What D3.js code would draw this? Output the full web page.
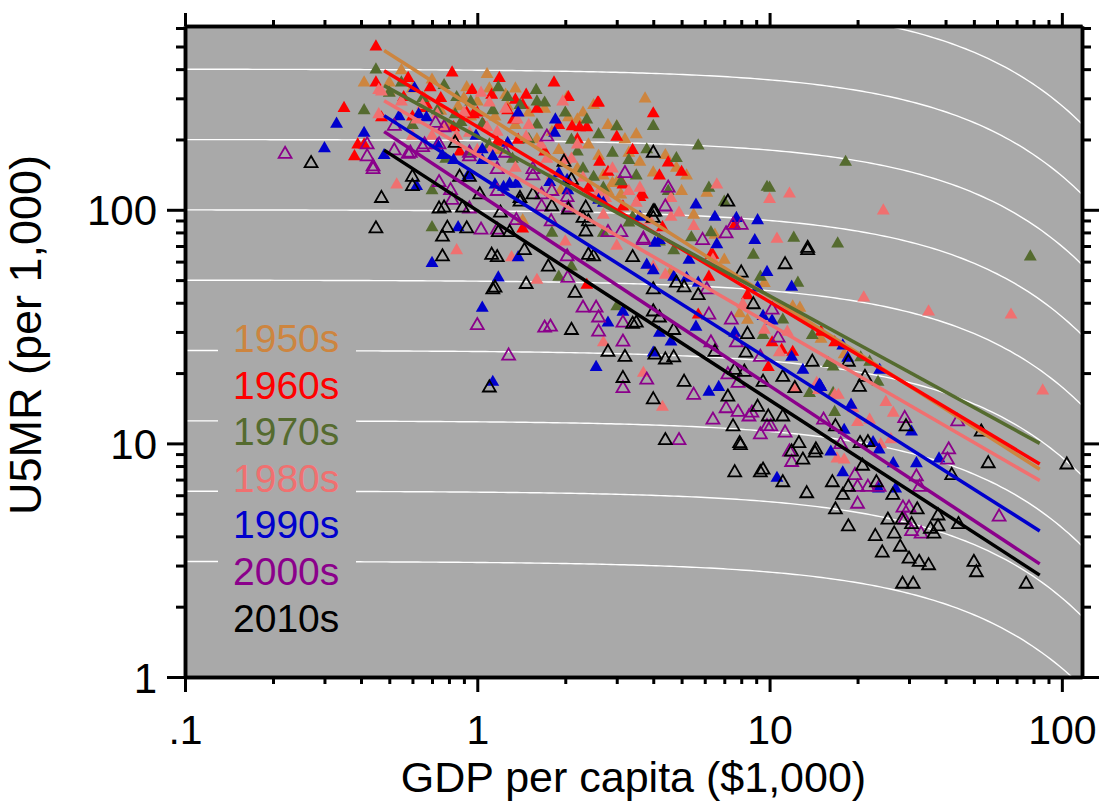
<!DOCTYPE html>
<html>
<head>
<meta charset="utf-8">
<script src="https://cdn.jsdelivr.net/npm/d3@7"></script>
<style>
  body { margin: 0; background: #fff; }
  text { font-family: "Liberation Sans", Arial, sans-serif; }
</style>
</head>
<body>
<script>
// decades, colours and marker style
var decades = ["1950s", "1960s", "1970s", "1980s", "1990s", "2000s", "2010s"];
var colors = ["#CD853F", "#FF0000", "#556B2F", "#F07070", "#0000CD", "#8B008B", "#000000"];
var hollow = [false, false, false, false, false, true, true];

// [GDP per capita ($1,000), U5MR per 1,000]
var pts1950s = [[0.41,350],[0.5,350],[0.5,320],[0.92,334],[1.08,380],[0.86,277],[1.27,277],[2.03,303],[2.05,248],
  [2.2,243],[3.0,131],[1.8,215],[3.75,299],[3.0,227],[4.0,144],[4.4,171],[4.8,151],[3.1,116],[2.9,130],[6.1,118],
  [1.43,90],[1.93,121],[4.6,54],[7.0,61],[7.9,36],[8.4,33.7],[9.6,48.5],[12,38.5],[12.7,38],[0.66,300],[0.75,265],
  [1.0,290],[1.15,250],[1.35,230],[1.5,260],[1.6,200],[2.4,190],[2.6,170],[0.55,395],[0.7,360],[1.35,330],[2.5,280],
  [3.3,175],[3.6,160],[5.0,120],[5.5,95],[6.5,78],[15,28],[18,24],[5.2,140],[2.2,150],[1.2,180],[0.8,230],
  [0.6,330],[0.9,300],[1.1,330],[1.25,310],[1.7,270],[2.3,260],[2.8,230],[3.2,200],[3.5,210],[0.95,250],
  [1.9,180],[2.7,140],[2.8,120]];
var pts1960s = [[0.45,499],[0.45,350],[0.58,366],[0.69,334],[0.82,386],[1.19,366],[1.83,350],[2.58,287],[0.96,325],
  [1.12,310],[1.35,295],[1.47,310],[1.43,281],[1.27,266],[0.97,256],[0.92,260],[1.0,260],[1.33,243],[2.11,227],
  [2.24,225],[2.37,225],[3.0,205],[2.05,303],[0.56,303],[0.47,248],[0.41,190],[0.67,281],[0.83,225],[0.87,177],
  [1.38,199],[1.7,177],[2.62,160],[0.35,272],[0.38,169],[0.39,190],[1.43,83],[3.15,103],[3.67,116],[4.3,84],
  [6.4,64],[6.2,51.6],[8.4,43],[10.2,27],[11,25.1],[12,24.6],[15,30],[5.7,35.5],[2.37,47.6],[9.9,21.2],[16.7,27],
  [4.0,258],[4.5,159],[5.0,145],[3.15,128],[3.6,113],[2.6,287],[6.3,64],
  [2.4,124],[2.8,145],[1.17,195],[0.66,272],[0.75,300],[0.6,250],[1.6,270],[1.9,230],[2.2,200],[1.05,230],
  [3.4,180],[4.2,140],[7.6,86]];
var pts1970s = [[18.2,160],[78,63],[5.7,188],[12.1,75.7],[17.1,71.6],[10,124],[6.2,124],[4.8,166],[4.0,228],[3.0,227],
  [2.9,175],[3.3,163],[3.8,181],[7.0,108],[5.4,76],[6.3,80],[8.8,64],[0.45,398],[0.41,266],[0.5,316],[0.77,341],
  [0.85,303],[1.18,334],[1.59,325],[1.6,290],[1.7,287],[1.27,303],[1.13,266],[1.04,233],[1.6,231],[2.37,243],
  [2.2,177],[1.32,165],[0.84,256],[0.73,266],[0.88,237],[0.78,165],[0.94,177],[0.7,121],[2.5,138],[2.7,124],
  [0.7,84],[9.8,125],[9.3,51.6],[12.5,48.6],[4.7,67],[4.2,73],[3.3,88],[2.7,79.6],[1.9,51.6],[3.0,38.5],[2.1,57],
  [1.8,79.6],[11.1,33.8],[14,29],[9.5,29],[15.9,22],[16.7,13.6],[16.5,16.4],[13.7,16.4],[20.5,23.3],[22,22.3],
  [16.5,21.3],[23.5,18.3],
  [0.55,350],[0.65,300],[0.95,290],[1.4,280],[2.0,260],[2.6,210],[3.5,140],[1.5,200],[2.3,150],[1.1,190],
  [4.5,120],[0.6,230],[2.1,199],[3.1,132],[3.4,93]];
var pts1980s = [[24.5,99],[21,42],[35,36.6],[67,35.5],[86,16.8],[6.6,128],[10,111],[11.7,117],[3.6,124],[10.6,75],
  [4.9,97],[0.46,325],[0.46,256],[0.53,128],[0.47,320],[1.03,316],[1.1,287],[1.96,290],[1.17,215],[1.08,225],
  [1.37,243],[1.47,205],[0.94,213],[0.73,256],[0.62,243],[0.6,207],[0.7,207],[1.12,184],[1.35,151],[1.73,165],
  [2.0,163],[2.1,165],[2.3,137],[2.6,119],[2.75,112],[1.8,140],[0.76,225],[0.85,207],[4.6,112],[2.0,73],[1.6,50],
  [1.31,62.5],[2.7,27],[3.7,20],[4.3,14.3],[4.4,52.6],[4.0,57],[6.4,61],[8.1,39.3],[11.5,30],[9.6,30.6],[14.5,18.1],
  [10.8,24.5],[12.2,17.2],[25,15],[26.5,13.5],[16.7,16.1],[17.2,16.1],[18,8.5],[17,8.6],[20,12.3],[24,9.9],
  [26,10.4],[22,12.6],[19.3,14.1],[14.7,16.9],[0.85,67],
  [0.55,290],[0.9,260],[1.25,270],[1.5,230],[1.65,190],[2.2,190],[2.9,150],[3.3,120],[1.0,180],[0.65,280],
  [5.5,85],[3.0,70],[3.5,107],[3.9,90],[4.6,93],[2.7,95]];
var pts1990s = [[0.3,183],[0.33,233],[0.41,213],[0.48,171],[0.54,251],[0.61,331],[0.63,256],[0.67,248],[0.62,126],
  [0.99,207],[1.27,193],[1.38,260],[1.85,243],[1.84,213],[1.29,129],[1.36,129],[1.13,169],[1.04,163],[1.77,131],
  [1.04,181],[1.9,143],[2.03,134],[1.23,125],[0.83,163],[0.93,140],[0.76,171],[0.73,190],[2.6,110],[1.15,128],
  [2.04,121],[2.7,107],[3.6,93],[4.05,72],[4.2,74],[5.6,105],[6.5,93],[6.6,71],[7.7,92],[9.1,90],[8.9,74],[9.8,54],
  [11.9,46.7],[9.1,46.4],[9.5,35],[10.2,33.5],[5.3,61],[5.2,51],[5.7,48.6],[4.7,51.6],[3.8,58],[4.0,55],[3.15,36.5],
  [2.8,32.8],[4.2,29.7],[4.6,27.2],[5.6,31.5],[7.6,29.7],[2.55,21.2],[1.04,38],[1.13,18.3],[1.38,62.5],[1.18,51.2],
  [4.0,24.4],[6.2,16.6],[6.7,17.4],[11.9,23.4],[13,20.6],[14.8,17.8],[0.7,59],[0.86,84],[15,17.4],[19,14.6],
  [18,11.4],[16.2,9.2],[17.8,7.5],[22.6,10.1],[23.7,9.4],[26.5,8.2],[31.8,8.2],[38,8.6],[30.6,11.2],[10.6,7.1],
  [27,6.4],[23.6,6.4],[17.8,26.2],[18.5,23.2],[23.8,20.6],[14.9,17.6]];
var pts2000s = [[0.22,173],[0.42,190],[0.42,169],[0.44,149],[0.44,153],[0.52,228],[0.52,179],[0.58,173],[0.65,185],
  [0.72,235],[0.77,225],[0.94,175],[1.25,175],[1.73,205],[1.55,149],[1.66,116],[1.8,120],[1.03,82],[1.17,82],
  [1.36,90],[0.94,101],[0.82,110],[0.74,131],[2.03,113],[2.05,102],[0.59,175],[0.66,190],[0.74,190],[0.94,169],
  [1.17,149],[1.55,140],[0.81,121],[1.17,120],[1.66,103],[1.79,89],[2.03,63],[2.04,51],[2.3,38],[2.55,38],
  [2.6,34.5],[2.6,30],[1.7,31.2],[1.78,31.5],[1.28,23.7],[2.8,80],[3.7,74],[3.15,32.8],[3.15,27.2],[3.15,17.2],
  [3.8,18.7],[4.5,124],[5.9,74],[7.1,79],[7.5,86],[8.0,86],[6.1,45.5],[6.2,35.5],[7.4,33.8],[7.7,27],[6.3,27],
  [9.3,23.4],[10.7,28.3],[10.2,37.3],[7.2,19.7],[7.8,18.1],[6.4,12.6],[8.7,13.5],[4.9,10.3],[5.5,16.1],[10.1,11.8],
  [11.3,11.1],[1.0,32],[7.1,14.1],[7.8,13.6],[8.5,13],[9.3,10.9],[9.8,11.8],[11.7,9.2],[11.9,8.3],[15.3,12.6],
  [17.5,9.9],[19.6,7.3],[20,6.5],[21.7,6.5],[23.7,6.5],[28.6,5.3],[30,5.3],[29,12.8],[31.8,7.2],[32.6,6.5],
  [30.6,4.2],[33,4.1],[61,4.85],[41,9.4],[40.6,8.5],[44,12.4],[29,4.7],[20,5.5],[3.2,143],[4.4,103],[3.1,80],[3.7,75]];
var pts2010s = [[0.27,158],[0.47,112],[0.45,83],[0.77,102],[0.89,102],[0.76,76.5],[0.79,83.5],[0.92,83],[0.76,63],
  [1.12,64],[1.17,62.5],[1.15,46.3],[1.1,17.3],[1.02,116],[0.6,126],[0.6,138],[0.84,193],[1.2,97],[0.74,101],
  [1.98,160],[2.1,134],[1.45,67],[2.35,102],[2.4,89],[0.87,138],[0.94,138],[1.4,112],[1.55,116],[1.4,108],
  [2.05,100],[1.8,103],[1.18,80],[1.29,80],[1.75,57],[1.47,48],[2.16,44],[2.3,92],[2.4,64],[2.5,63],[3.4,62.5],
  [4.0,98],[2.35,80.5],[7.2,108],[8.0,53.7],[11.3,58.3],[13.5,68.5],[4.0,45.5],[4.8,48.6],[5.1,46.4],[5.7,43],
  [4.0,36.6],[3.5,32.8],[3.4,32.4],[4.2,34.5],[4.7,30.5],[2.1,30.5],[2.8,24.6],[3.2,23.4],[3.15,19],[4.0,15.4],
  [4.05,23.9],[4.4,22.8],[4.7,23.3],[5.1,18.3],[6.5,24.6],[7.6,20.6],[7.2,15.8],[8.2,20.2],[8.3,24.4],[8.4,29.3],
  [8.8,39.3],[9.5,18.3],[9.1,14.3],[11.1,19.2],[12.2,17.2],[11.1,13],[7.95,9.8],[4.4,10.3],[1.13,45.5],[7.5,11.8],
  [11.9,9.2],[14.4,9.4],[7.9,10],[7.6,7.5],[9.3,7.5],[9.5,7.7],[11.1,6.8],[9.9,13],[12.6,10],[13,8.5],[13.4,6.1],
  [16.4,6.8],[16.8,5.2],[17.8,6],[18.6,4.4],[18.6,6.5],[20.4,10],[21.7,10.1],[20.8,8],[23.2,6.8],[26.4,6],[23,4],
  [24.3,3.4],[28,3.6],[26.7,4.1],[25.4,4.7],[28.4,4.7],[30,3.2],[32.5,3.1],[35,3.0],[31,2.5],[30.6,4.5],[32,5.2],
  [35.5,4.3],[36.5,4.1],[37.7,4.4],[37.7,4.9],[29.3,11.8],[42,7.3],[44.3,4.5],[50,3.1],[51,2.8],[56,8.2],[53,11.2],
  [75.5,2.5],[104,8.1],[16.8,11.8],[14.3,9.1],[28.5,2.5],[13.5,67],[14,22.3],[18.6,22.3],[21.2,19.2],[20.3,17.4],
  [4.0,175],[4.05,98],[4.0,92]];
var series = [pts1950s, pts1960s, pts1970s, pts1980s, pts1990s, pts2000s, pts2010s];

// fitted lines: U5MR at GDP 0.48 and at GDP 84
var fitX = [0.48, 84];
var fitStart = [481, 394, 340, 293, 253, 216, 180];
var fitEnd = [7.75, 8.17, 10.0, 6.93, 4.22, 3.05, 2.73];

// white guide curves: level * exp(-GDP / 95)
var guideLevels = [800, 400, 200, 100, 50, 25, 12.5, 6.25, 3.125];
var guideScale = 95;

var xMajor = [0.1, 1, 10, 100];
var xLabels = [".1", "1", "10", "100"];
var yMajor = [1, 10, 100];
var yLabels = ["1", "10", "100"];

var width = 1101, height = 805;
var pLeft = 185, pRight = 1082, pTop = 26, pBottom = 677;

var x = d3.scaleLog().domain([0.1, 117.2]).range([pLeft, pRight]);
var y = d3.scaleLog().domain([1, 612]).range([pBottom, pTop]);

function minors(lo, hi, max) {
    var out = [];
    for (var p = lo; p <= hi; p *= 10)
        for (var k = 2; k <= 9; k++) if (p * k < max) out.push(p * k);
    return out;
}
var xMinor = minors(0.1, 10, 117);
var yMinor = minors(1, 100, 612);

var svg = d3.select("body").append("svg")
    .attr("width", width)
    .attr("height", height);

svg.append("defs").append("clipPath").attr("id", "plot")
    .append("rect").attr("x", pLeft).attr("y", pTop)
    .attr("width", pRight - pLeft).attr("height", pBottom - pTop);

svg.append("rect")
    .attr("x", pLeft).attr("y", pTop)
    .attr("width", pRight - pLeft).attr("height", pBottom - pTop)
    .attr("fill", "#A9A9A9");

// guide curves
var gdpGrid = d3.range(0, 201).map(function(i) { return 0.1 * Math.pow(1172, i / 200); });
var guide = d3.line()
    .x(function(d) { return x(d[0]); })
    .y(function(d) { return y(d[1]); });

svg.append("g").attr("clip-path", "url(#plot)")
    .selectAll("path")
    .data(guideLevels)
    .enter().append("path")
    .attr("d", function(L) {
        return guide(gdpGrid.map(function(g) { return [g, L * Math.exp(-g / guideScale)]; }));
    })
    .attr("fill", "none")
    .attr("stroke", "#fff")
    .attr("stroke-width", 1.4);

// legend box masks the guide curves
svg.append("rect")
    .attr("x", 218).attr("y", 316)
    .attr("width", 138).attr("height", 326)
    .attr("fill", "#A9A9A9");

// points
var tri = d3.symbol().type(d3.symbolTriangle);
var plot = svg.append("g").attr("clip-path", "url(#plot)");

series.forEach(function(pts, i) {
    plot.append("g")
        .selectAll("path")
        .data(pts)
        .enter().append("path")
        .attr("transform", function(d) { return "translate(" + x(d[0]) + "," + y(d[1]) + ")"; })
        .attr("d", tri.size(72)())
        .attr("fill", hollow[i] ? "none" : colors[i])
        .attr("stroke", hollow[i] ? colors[i] : "none")
        .attr("stroke-width", 1.8);
});

// fitted lines
decades.forEach(function(dec, i) {
    plot.append("line")
        .attr("x1", x(fitX[0])).attr("y1", y(fitStart[i]))
        .attr("x2", x(fitX[1])).attr("y2", y(fitEnd[i]))
        .attr("stroke", colors[i])
        .attr("stroke-width", 3.5);
});

// legend
svg.append("g").selectAll("text")
    .data(decades)
    .enter().append("text")
    .attr("x", 233)
    .attr("y", function(d, i) { return 352 + i * 46.6; })
    .attr("fill", function(d, i) { return colors[i]; })
    .attr("font-size", 39)
    .text(function(d) { return d; });

// axes
function styleAxis(g) {
    g.select(".domain").attr("stroke", "#000").attr("stroke-width", 3.5);
    g.selectAll(".tick line").attr("stroke", "#000").attr("stroke-width", 3);
}

svg.append("g").attr("transform", "translate(0," + pBottom + ")")
    .call(d3.axisBottom(x).tickValues(xMinor).tickSize(7).tickSizeOuter(0).tickFormat(""))
    .call(styleAxis);
var xb = svg.append("g").attr("transform", "translate(0," + pBottom + ")")
    .call(d3.axisBottom(x).tickValues(xMajor).tickSize(15).tickSizeOuter(0)
        .tickFormat(function(d, i) { return xLabels[i]; }))
    .call(styleAxis);
xb.selectAll(".tick text").attr("y", 67).attr("dy", null)
    .attr("font-size", 41).attr("font-family", "Liberation Sans, Arial, sans-serif").attr("fill", "#000");

svg.append("g").attr("transform", "translate(0," + pTop + ")")
    .call(d3.axisTop(x).tickValues(xMinor).tickSize(6).tickSizeOuter(0).tickFormat(""))
    .call(styleAxis);
svg.append("g").attr("transform", "translate(0," + pTop + ")")
    .call(d3.axisTop(x).tickValues(xMajor).tickSize(13).tickSizeOuter(0).tickFormat(""))
    .call(styleAxis);

svg.append("g").attr("transform", "translate(" + pLeft + ",0)")
    .call(d3.axisLeft(y).tickValues(yMinor).tickSize(9).tickSizeOuter(0).tickFormat(""))
    .call(styleAxis);
var yl = svg.append("g").attr("transform", "translate(" + pLeft + ",0)")
    .call(d3.axisLeft(y).tickValues(yMajor).tickSize(18).tickSizeOuter(0)
        .tickFormat(function(d, i) { return yLabels[i]; }))
    .call(styleAxis);
yl.selectAll(".tick text").attr("x", -28).attr("dy", "0.36em")
    .attr("font-size", 42).attr("font-family", "Liberation Sans, Arial, sans-serif").attr("fill", "#000");

svg.append("g").attr("transform", "translate(" + pRight + ",0)")
    .call(d3.axisRight(y).tickValues(yMinor).tickSize(9).tickSizeOuter(0).tickFormat(""))
    .call(styleAxis);
svg.append("g").attr("transform", "translate(" + pRight + ",0)")
    .call(d3.axisRight(y).tickValues(yMajor).tickSize(17).tickSizeOuter(0).tickFormat(""))
    .call(styleAxis);

// axis titles
svg.append("text")
    .attr("x", (pLeft + pRight) / 2)
    .attr("y", 792)
    .attr("text-anchor", "middle")
    .attr("font-size", 43)
    .text("GDP per capita ($1,000)");

svg.append("text")
    .attr("transform", "translate(41,335) rotate(-90)")
    .attr("text-anchor", "middle")
    .attr("font-size", 45)
    .text("U5MR (per 1,000)");
</script>
</body>
</html>
